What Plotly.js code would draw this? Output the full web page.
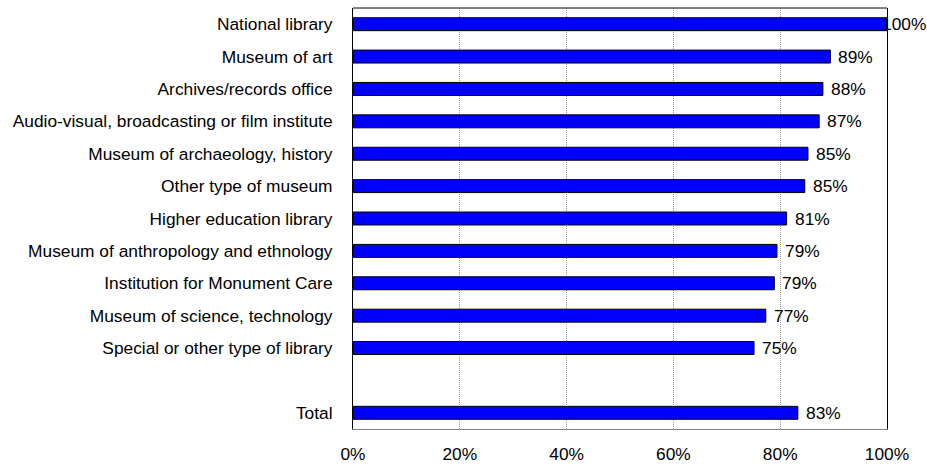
<!DOCTYPE html>
<html>
<head>
<meta charset="utf-8">
<script src="https://cdn.plot.ly/plotly-3.0.1.min.js"></script>
<style>html,body{margin:0;padding:0;background:#fff;}#chart{width:927px;height:466px;}</style>
</head>
<body>
<div id="chart"></div>
<script>
var categories = [
  "National library",
  "Museum of art",
  "Archives/records office",
  "Audio-visual, broadcasting or film institute",
  "Museum of archaeology, history",
  "Other type of museum",
  "Higher education library",
  "Museum of anthropology and ethnology",
  "Institution for Monument Care",
  "Museum of science, technology",
  "Special or other type of library",
  " ",
  "Total"
];
var values = [100, 89.4, 88.0, 87.3, 85.2, 84.6, 81.2, 79.4, 78.9, 77.3, 75.1, null, 83.3];
var xTicks = [0, 20, 40, 60, 80, 100];
var xMax = 100;

var FONT = "Liberation Sans, Arial, sans-serif";
var FS = 17.33;

var trace = {
  type: "bar",
  orientation: "h",
  y: categories,
  x: values,
  width: 0.4,
  marker: { color: "#0000FF", line: { color: "#000000", width: 1 } },
  hoverinfo: "none"
};

var annotations = [];
values.forEach(function (v, i) {
  if (v === null) return;
  annotations.push({
    x: v,
    y: categories[i],
    xref: "x",
    yref: "y",
    text: Math.round(v) + "%",
    showarrow: false,
    xanchor: "left",
    yanchor: "middle",
    xshift: v >= xMax ? -7 : 6,
    font: { family: FONT, size: FS, color: "#000" }
  });
});

var layout = {
  width: 927,
  height: 466,
  margin: { l: 353, r: 40, t: 8, b: 37 },
  paper_bgcolor: "#fff",
  plot_bgcolor: "#fff",
  showlegend: false,
  font: { family: FONT, size: FS, color: "#000" },
  xaxis: {
    range: [0, xMax],
    tickvals: xTicks,
    ticktext: xTicks.map(function (v) { return v + "%"; }),
    showgrid: true,
    gridcolor: "#999999",
    griddash: "1px,1px",
    gridwidth: 1,
    zeroline: false,
    showline: true,
    linecolor: "#808080",
    linewidth: 1,
    ticks: "",
    ticklabelstandoff: 9,
    fixedrange: true
  },
  yaxis: {
    type: "category",
    categoryorder: "array",
    categoryarray: categories,
    autorange: "reversed",
    showgrid: false,
    zeroline: false,
    showline: true,
    mirror: true,
    linecolor: "#000",
    linewidth: 1,
    ticks: "",
    ticklabelstandoff: 16,
    fixedrange: true
  },
  annotations: annotations,
  shapes: [
    { type: "line", xref: "paper", yref: "paper", x0: 0, x1: 1, y0: 1, y1: 1, line: { color: "#000", width: 1 } }
  ]
};

Plotly.newPlot("chart", [trace], layout, { displayModeBar: false, staticPlot: true });
</script>
</body>
</html>
